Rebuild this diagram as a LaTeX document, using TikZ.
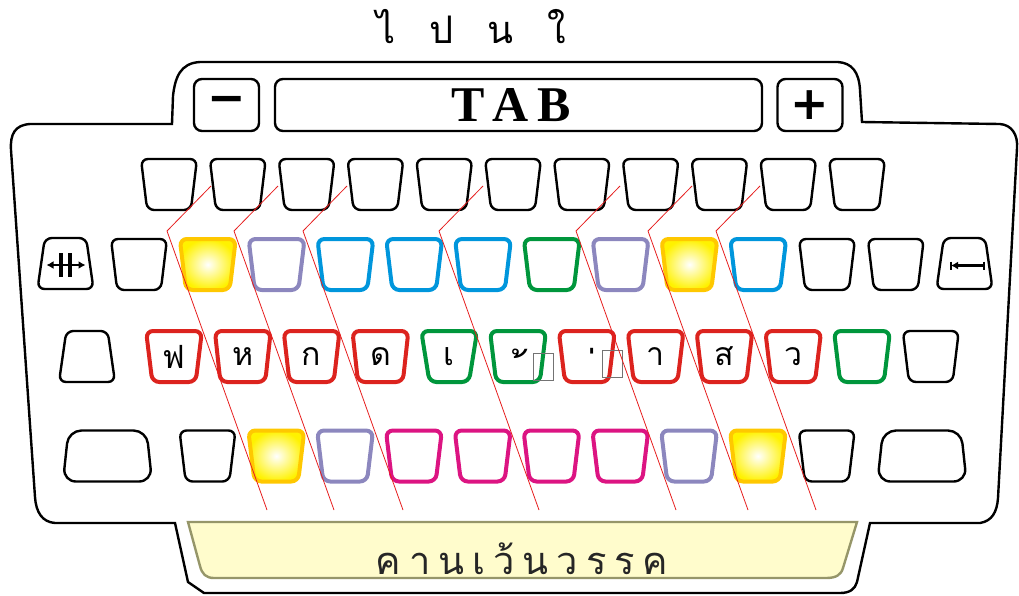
\documentclass[tikz,border=0pt]{standalone}
\usepackage{fontspec}
\setmainfont{Liberation Serif}
\newfontfamily\thaifont[Script=Thai]{Loma}
\newfontfamily\signfont{DejaVu Sans}
\usetikzlibrary{shapes.geometric,arrows.meta,calc}
\definecolor{cred}{RGB}{220,35,30}
\definecolor{cgreen}{RGB}{0,150,60}
\definecolor{cblue}{RGB}{0,150,220}
\definecolor{cpurple}{RGB}{140,135,190}
\definecolor{cpink}{RGB}{220,20,130}
\definecolor{cgold}{RGB}{255,200,0}
\definecolor{cyellow}{RGB}{255,242,0}
\definecolor{barfill}{RGB}{255,252,204}
\definecolor{barline}{RGB}{150,150,105}
\definecolor{cguide}{RGB}{230,30,30}
\newcommand\tsp{\hspace{8pt}}

\begin{document}
\begin{tikzpicture}[x=1pt,y=-1pt,>={Latex[length=7pt,width=8pt]},
    kblack/.style={trapezium,trapezium stretches=true,shape border rotate=180,trapezium angle=82,
                   draw,line width=2.4pt,rounded corners=7pt,minimum width=56pt,minimum height=51pt,
                   inner sep=2pt,font=\thaifont\fontsize{32}{34}\selectfont},
    kcol/.style={kblack,draw=#1,line width=4pt},
    kred/.style={kcol=cred}, kgreen/.style={kcol=cgreen}, kblue/.style={kcol=cblue},
    kpurple/.style={kcol=cpurple}, kpink/.style={kcol=cpink},
    kgold/.style={kcol=cgold,inner color=white,outer color=cyellow},
    ikey/.style={kblack,shape border rotate=0,trapezium angle=80},
    wkey/.style={kblack,shape border rotate=0,trapezium angle=86,minimum width=89pt,rounded corners=13pt},
    btn/.style={draw,line width=2.4pt,rounded corners=8pt,minimum height=52pt},
    tonemark/.style={font=\thaifont\fontsize{42}{44}\selectfont,anchor=base},
    guide/.style={draw=cguide,line width=0.8pt}]
  \useasboundingbox (0,0) rectangle (1019,595);
  \draw[line width=2.4pt] (172,124) -- (173,96) .. controls (175,78) and (180,63) .. (200,62)
    -- (838,62) .. controls (852,63) and (859,72) .. (860,90) -- (862,122) -- (1000,124)
    .. controls (1012,125) and (1018,135) .. (1017,148) -- (998,498)
    .. controls (997,512) and (992,521) .. (980,523) -- (870,523) -- (857,582)
    .. controls (855,589) and (850,593) .. (840,593) -- (204,593) -- (188,582) -- (175,523)
    -- (55,523) .. controls (42,522) and (36,512) .. (35,497) -- (11,150)
    .. controls (10,134) and (15,125) .. (30,124) -- cycle;
  \node[font=\thaifont\fontsize{38}{40}\selectfont] (title) at (471,27) {ไ\hspace{34pt}ป\hspace{34pt}น\hspace{34pt}ใ};
  \node[btn,minimum width=65pt] (minus) at (226.5,105) {};
  \node[btn,minimum width=487pt] (tab) at (518.5,105) {};
  \node[font=\bfseries\fontsize{50}{54}\selectfont] (tabtext) at (511,105) {T\hspace{8pt}A\hspace{8pt}B};
  \node[btn,minimum width=65pt] (plus) at (810,105) {};
  \node[font=\signfont\bfseries\fontsize{46}{48}\selectfont] (minussign) at (minus) {−};
  \node[font=\signfont\bfseries\fontsize{46}{48}\selectfont] (plussign) at (plus) {+};
  \foreach \i in {0,...,10} \node[kblack] (t\i) at ({169+68.8*\i},184.5) {};
  \node[ikey] (lefticon) at (65.5,263.5) {};
  \foreach \s [count=\i from 0] in {kblack,kgold,kpurple,kblue,kblue,kblue,kgreen,kpurple,kgold,kblue,kblack,kblack}
    \node[\s] (h\i) at ({139+68.8*\i},264.5) {};
  \node[ikey] (righticon) at (964.5,263.5) {};
  \draw[<->,line width=2.4pt] ($(lefticon)+(-19,1.5)$) -- ($(lefticon)+(20,1.5)$);
  \draw[line width=3.5pt] ($(lefticon)+(-4.5,-10.5)$) -- ($(lefticon)+(-4.5,13.5)$);
  \draw[line width=3.5pt] ($(lefticon)+(4.5,-10.5)$) -- ($(lefticon)+(4.5,13.5)$);
  \draw[<-,line width=2.4pt] ($(righticon)+(-13.5,2)$) -- ($(righticon)+(19.5,2)$);
  \draw[line width=2.4pt] ($(righticon)+(-13.5,-2)$) -- ($(righticon)+(-13.5,6)$);
  \draw[line width=2.4pt] ($(righticon)+(19.5,-2)$) -- ($(righticon)+(19.5,6)$);
  \node[ikey] (capskey) at (87,356.5) {};
  \foreach \s/\t [count=\i from 0] in {kred/ฟ,kred/ห,kred/ก,kred/ด,kgreen/เ,kgreen/{},kred/{},kred/า,kred/ส,kred/ว,kgreen/{},kblack/{}}
    \node[\s] (m\i) at ({174+68.8*\i},356.5) {\t};
  \node[tonemark] (maitho) at (521,393) {\char"00A0้};
  \node[tonemark] (maiek) at (592,391) {\char"00A0่};
  \node[draw=black!55,line width=1pt,minimum width=20pt,minimum height=27pt] (gapa) at (543.5,366.5) {};
  \node[draw=black!55,line width=1pt,minimum width=20pt,minimum height=27pt] (gapb) at (612,363.5) {};
  \node[wkey] (lshift) at (107.5,456) {};
  \foreach \s [count=\i from 0] in {kblack,kgold,kpurple,kpink,kpink,kpink,kpink,kpurple,kgold,kblack}
    \node[\s] (b\i) at ({207.5+68.8*\i},456) {};
  \node[wkey] (rshift) at (922,456) {};
  \draw[fill=barfill,draw=barline,line width=2.4pt] (188,522) -- (857,522) -- (843,568)
    .. controls (841,575) and (836,578) .. (826,578) -- (214,578)
    .. controls (206,578) and (202,574) .. (200,566) -- cycle;
  \node[font=\thaifont\fontsize{38}{42}\selectfont,text=black!85] (spacebar) at (522,559)
    {ค\tsp า\tsp น\tsp เ\tsp ว้\tsp น\tsp ว\tsp ร\tsp ร\tsp ค};
  \foreach \c in {167,234,303,439,576,648,716}
    \draw[guide] (\c+44,186) -- (\c,231) -- (\c+100,510);
\end{tikzpicture}
\end{document}
